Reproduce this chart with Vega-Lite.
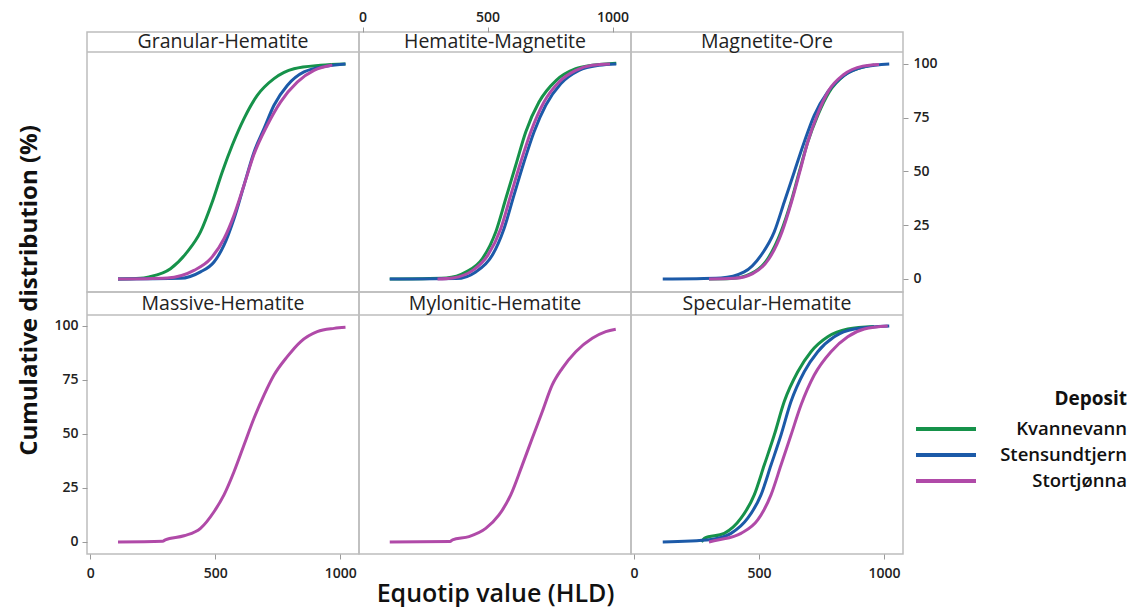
{
  "$schema": "https://vega.github.io/schema/vega-lite/v6.json",
  "padding": {"left": 17, "top": 9, "right": 0, "bottom": 0},
  "background": "white",
  "datasets": {
    "panels": [
      {"panel": "Granular-Hematite"}, {"panel": "Hematite-Magnetite"}, {"panel": "Magnetite-Ore"},
      {"panel": "Massive-Hematite"}, {"panel": "Mylonitic-Hematite"}, {"panel": "Specular-Hematite"}
    ],
    "curves": [
      {"panel": "Granular-Hematite", "deposit": "Kvannevann", "hld": 111, "cum": 0},
      {"panel": "Granular-Hematite", "deposit": "Kvannevann", "hld": 200, "cum": 0.3},
      {"panel": "Granular-Hematite", "deposit": "Kvannevann", "hld": 235, "cum": 1},
      {"panel": "Granular-Hematite", "deposit": "Kvannevann", "hld": 321, "cum": 4.8},
      {"panel": "Granular-Hematite", "deposit": "Kvannevann", "hld": 388, "cum": 12.6},
      {"panel": "Granular-Hematite", "deposit": "Kvannevann", "hld": 441, "cum": 21.9},
      {"panel": "Granular-Hematite", "deposit": "Kvannevann", "hld": 488, "cum": 35.8},
      {"panel": "Granular-Hematite", "deposit": "Kvannevann", "hld": 528, "cum": 49.8},
      {"panel": "Granular-Hematite", "deposit": "Kvannevann", "hld": 568, "cum": 62.2},
      {"panel": "Granular-Hematite", "deposit": "Kvannevann", "hld": 615, "cum": 74.6},
      {"panel": "Granular-Hematite", "deposit": "Kvannevann", "hld": 668, "cum": 85.4},
      {"panel": "Granular-Hematite", "deposit": "Kvannevann", "hld": 735, "cum": 93.2},
      {"panel": "Granular-Hematite", "deposit": "Kvannevann", "hld": 815, "cum": 97.8},
      {"panel": "Granular-Hematite", "deposit": "Kvannevann", "hld": 921, "cum": 99.4},
      {"panel": "Granular-Hematite", "deposit": "Kvannevann", "hld": 1021, "cum": 100},
      {"panel": "Granular-Hematite", "deposit": "Stensundtjern", "hld": 111, "cum": 0},
      {"panel": "Granular-Hematite", "deposit": "Stensundtjern", "hld": 361, "cum": 0.3},
      {"panel": "Granular-Hematite", "deposit": "Stensundtjern", "hld": 441, "cum": 3.3},
      {"panel": "Granular-Hematite", "deposit": "Stensundtjern", "hld": 495, "cum": 7.9},
      {"panel": "Granular-Hematite", "deposit": "Stensundtjern", "hld": 535, "cum": 15.7},
      {"panel": "Granular-Hematite", "deposit": "Stensundtjern", "hld": 575, "cum": 28},
      {"panel": "Granular-Hematite", "deposit": "Stensundtjern", "hld": 615, "cum": 43.6},
      {"panel": "Granular-Hematite", "deposit": "Stensundtjern", "hld": 655, "cum": 59},
      {"panel": "Granular-Hematite", "deposit": "Stensundtjern", "hld": 695, "cum": 69.9},
      {"panel": "Granular-Hematite", "deposit": "Stensundtjern", "hld": 735, "cum": 80.8},
      {"panel": "Granular-Hematite", "deposit": "Stensundtjern", "hld": 788, "cum": 90},
      {"panel": "Granular-Hematite", "deposit": "Stensundtjern", "hld": 855, "cum": 96.3},
      {"panel": "Granular-Hematite", "deposit": "Stensundtjern", "hld": 948, "cum": 99},
      {"panel": "Granular-Hematite", "deposit": "Stensundtjern", "hld": 1021, "cum": 100},
      {"panel": "Granular-Hematite", "deposit": "Stortjønna", "hld": 111, "cum": 0},
      {"panel": "Granular-Hematite", "deposit": "Stortjønna", "hld": 308, "cum": 0.5},
      {"panel": "Granular-Hematite", "deposit": "Stortjønna", "hld": 415, "cum": 4},
      {"panel": "Granular-Hematite", "deposit": "Stortjønna", "hld": 481, "cum": 9.4},
      {"panel": "Granular-Hematite", "deposit": "Stortjønna", "hld": 535, "cum": 18.7},
      {"panel": "Granular-Hematite", "deposit": "Stortjønna", "hld": 575, "cum": 29.6},
      {"panel": "Granular-Hematite", "deposit": "Stortjønna", "hld": 615, "cum": 43.6},
      {"panel": "Granular-Hematite", "deposit": "Stortjønna", "hld": 655, "cum": 58},
      {"panel": "Granular-Hematite", "deposit": "Stortjønna", "hld": 708, "cum": 71.5},
      {"panel": "Granular-Hematite", "deposit": "Stortjønna", "hld": 761, "cum": 82.3},
      {"panel": "Granular-Hematite", "deposit": "Stortjønna", "hld": 828, "cum": 91.6},
      {"panel": "Granular-Hematite", "deposit": "Stortjønna", "hld": 895, "cum": 97},
      {"panel": "Granular-Hematite", "deposit": "Stortjønna", "hld": 968, "cum": 99.5},

      {"panel": "Hematite-Magnetite", "deposit": "Kvannevann", "hld": 109, "cum": 0},
      {"panel": "Hematite-Magnetite", "deposit": "Kvannevann", "hld": 335, "cum": 0.5},
      {"panel": "Hematite-Magnetite", "deposit": "Kvannevann", "hld": 415, "cum": 3.3},
      {"panel": "Hematite-Magnetite", "deposit": "Kvannevann", "hld": 479, "cum": 9.4},
      {"panel": "Hematite-Magnetite", "deposit": "Kvannevann", "hld": 533, "cum": 21.9},
      {"panel": "Hematite-Magnetite", "deposit": "Kvannevann", "hld": 573, "cum": 37.3},
      {"panel": "Hematite-Magnetite", "deposit": "Kvannevann", "hld": 613, "cum": 52.9},
      {"panel": "Hematite-Magnetite", "deposit": "Kvannevann", "hld": 653, "cum": 68.4},
      {"panel": "Hematite-Magnetite", "deposit": "Kvannevann", "hld": 706, "cum": 82.3},
      {"panel": "Hematite-Magnetite", "deposit": "Kvannevann", "hld": 775, "cum": 92.4},
      {"panel": "Hematite-Magnetite", "deposit": "Kvannevann", "hld": 853, "cum": 97.8},
      {"panel": "Hematite-Magnetite", "deposit": "Kvannevann", "hld": 919, "cum": 99.4},
      {"panel": "Hematite-Magnetite", "deposit": "Kvannevann", "hld": 1015, "cum": 100.4},
      {"panel": "Hematite-Magnetite", "deposit": "Stensundtjern", "hld": 109, "cum": 0},
      {"panel": "Hematite-Magnetite", "deposit": "Stensundtjern", "hld": 375, "cum": 0.2},
      {"panel": "Hematite-Magnetite", "deposit": "Stensundtjern", "hld": 453, "cum": 3.3},
      {"panel": "Hematite-Magnetite", "deposit": "Stensundtjern", "hld": 519, "cum": 11},
      {"panel": "Hematite-Magnetite", "deposit": "Stensundtjern", "hld": 566, "cum": 23.4},
      {"panel": "Hematite-Magnetite", "deposit": "Stensundtjern", "hld": 606, "cum": 39},
      {"panel": "Hematite-Magnetite", "deposit": "Stensundtjern", "hld": 646, "cum": 54.4},
      {"panel": "Hematite-Magnetite", "deposit": "Stensundtjern", "hld": 686, "cum": 68.4},
      {"panel": "Hematite-Magnetite", "deposit": "Stensundtjern", "hld": 733, "cum": 80.8},
      {"panel": "Hematite-Magnetite", "deposit": "Stensundtjern", "hld": 793, "cum": 90.8},
      {"panel": "Hematite-Magnetite", "deposit": "Stensundtjern", "hld": 866, "cum": 97},
      {"panel": "Hematite-Magnetite", "deposit": "Stensundtjern", "hld": 946, "cum": 99.4},
      {"panel": "Hematite-Magnetite", "deposit": "Stensundtjern", "hld": 1015, "cum": 100},
      {"panel": "Hematite-Magnetite", "deposit": "Stortjønna", "hld": 300, "cum": 0},
      {"panel": "Hematite-Magnetite", "deposit": "Stortjønna", "hld": 361, "cum": 0.5},
      {"panel": "Hematite-Magnetite", "deposit": "Stortjønna", "hld": 441, "cum": 4},
      {"panel": "Hematite-Magnetite", "deposit": "Stortjønna", "hld": 501, "cum": 11},
      {"panel": "Hematite-Magnetite", "deposit": "Stortjønna", "hld": 553, "cum": 23.4},
      {"panel": "Hematite-Magnetite", "deposit": "Stortjønna", "hld": 593, "cum": 39},
      {"panel": "Hematite-Magnetite", "deposit": "Stortjønna", "hld": 633, "cum": 54.4},
      {"panel": "Hematite-Magnetite", "deposit": "Stortjønna", "hld": 673, "cum": 68.4},
      {"panel": "Hematite-Magnetite", "deposit": "Stortjønna", "hld": 726, "cum": 82.3},
      {"panel": "Hematite-Magnetite", "deposit": "Stortjønna", "hld": 786, "cum": 91.6},
      {"panel": "Hematite-Magnetite", "deposit": "Stortjønna", "hld": 853, "cum": 97},
      {"panel": "Hematite-Magnetite", "deposit": "Stortjønna", "hld": 919, "cum": 99.4},
      {"panel": "Hematite-Magnetite", "deposit": "Stortjønna", "hld": 990, "cum": 100},

      {"panel": "Magnetite-Ore", "deposit": "Kvannevann", "hld": 300, "cum": 0},
      {"panel": "Magnetite-Ore", "deposit": "Kvannevann", "hld": 388, "cum": 0.2},
      {"panel": "Magnetite-Ore", "deposit": "Kvannevann", "hld": 468, "cum": 2.5},
      {"panel": "Magnetite-Ore", "deposit": "Kvannevann", "hld": 535, "cum": 9.4},
      {"panel": "Magnetite-Ore", "deposit": "Kvannevann", "hld": 588, "cum": 21.9},
      {"panel": "Magnetite-Ore", "deposit": "Kvannevann", "hld": 628, "cum": 35.8},
      {"panel": "Magnetite-Ore", "deposit": "Kvannevann", "hld": 661, "cum": 49.8},
      {"panel": "Magnetite-Ore", "deposit": "Kvannevann", "hld": 695, "cum": 63.7},
      {"panel": "Magnetite-Ore", "deposit": "Kvannevann", "hld": 735, "cum": 76.1},
      {"panel": "Magnetite-Ore", "deposit": "Kvannevann", "hld": 781, "cum": 87},
      {"panel": "Magnetite-Ore", "deposit": "Kvannevann", "hld": 841, "cum": 94.7},
      {"panel": "Magnetite-Ore", "deposit": "Kvannevann", "hld": 921, "cum": 98.7},
      {"panel": "Magnetite-Ore", "deposit": "Kvannevann", "hld": 960, "cum": 99.5},
      {"panel": "Magnetite-Ore", "deposit": "Stensundtjern", "hld": 115, "cum": 0},
      {"panel": "Magnetite-Ore", "deposit": "Stensundtjern", "hld": 348, "cum": 0.5},
      {"panel": "Magnetite-Ore", "deposit": "Stensundtjern", "hld": 441, "cum": 3.3},
      {"panel": "Magnetite-Ore", "deposit": "Stensundtjern", "hld": 508, "cum": 11},
      {"panel": "Magnetite-Ore", "deposit": "Stensundtjern", "hld": 561, "cum": 21.9},
      {"panel": "Magnetite-Ore", "deposit": "Stensundtjern", "hld": 601, "cum": 35.8},
      {"panel": "Magnetite-Ore", "deposit": "Stensundtjern", "hld": 641, "cum": 49.8},
      {"panel": "Magnetite-Ore", "deposit": "Stensundtjern", "hld": 681, "cum": 63.7},
      {"panel": "Magnetite-Ore", "deposit": "Stensundtjern", "hld": 721, "cum": 76.1},
      {"panel": "Magnetite-Ore", "deposit": "Stensundtjern", "hld": 775, "cum": 87},
      {"panel": "Magnetite-Ore", "deposit": "Stensundtjern", "hld": 841, "cum": 94.7},
      {"panel": "Magnetite-Ore", "deposit": "Stensundtjern", "hld": 921, "cum": 98.7},
      {"panel": "Magnetite-Ore", "deposit": "Stensundtjern", "hld": 1021, "cum": 100},
      {"panel": "Magnetite-Ore", "deposit": "Stortjønna", "hld": 300, "cum": 0},
      {"panel": "Magnetite-Ore", "deposit": "Stortjønna", "hld": 400, "cum": 0.3},
      {"panel": "Magnetite-Ore", "deposit": "Stortjønna", "hld": 475, "cum": 2.5},
      {"panel": "Magnetite-Ore", "deposit": "Stortjønna", "hld": 540, "cum": 9.4},
      {"panel": "Magnetite-Ore", "deposit": "Stortjønna", "hld": 592, "cum": 21.9},
      {"panel": "Magnetite-Ore", "deposit": "Stortjønna", "hld": 630, "cum": 35.8},
      {"panel": "Magnetite-Ore", "deposit": "Stortjønna", "hld": 663, "cum": 49.8},
      {"panel": "Magnetite-Ore", "deposit": "Stortjønna", "hld": 695, "cum": 63.7},
      {"panel": "Magnetite-Ore", "deposit": "Stortjønna", "hld": 733, "cum": 76.3},
      {"panel": "Magnetite-Ore", "deposit": "Stortjønna", "hld": 778, "cum": 87.5},
      {"panel": "Magnetite-Ore", "deposit": "Stortjønna", "hld": 838, "cum": 95},
      {"panel": "Magnetite-Ore", "deposit": "Stortjønna", "hld": 915, "cum": 99},
      {"panel": "Magnetite-Ore", "deposit": "Stortjønna", "hld": 980, "cum": 99.8},

      {"panel": "Massive-Hematite", "deposit": "Stortjønna", "hld": 111, "cum": 0},
      {"panel": "Massive-Hematite", "deposit": "Stortjønna", "hld": 290, "cum": 0.3},
      {"panel": "Massive-Hematite", "deposit": "Stortjønna", "hld": 300, "cum": 1},
      {"panel": "Massive-Hematite", "deposit": "Stortjønna", "hld": 375, "cum": 2.9},
      {"panel": "Massive-Hematite", "deposit": "Stortjønna", "hld": 441, "cum": 6.3},
      {"panel": "Massive-Hematite", "deposit": "Stortjønna", "hld": 495, "cum": 14},
      {"panel": "Massive-Hematite", "deposit": "Stortjønna", "hld": 535, "cum": 21.8},
      {"panel": "Massive-Hematite", "deposit": "Stortjønna", "hld": 575, "cum": 32.5},
      {"panel": "Massive-Hematite", "deposit": "Stortjønna", "hld": 615, "cum": 44.9},
      {"panel": "Massive-Hematite", "deposit": "Stortjønna", "hld": 655, "cum": 57.3},
      {"panel": "Massive-Hematite", "deposit": "Stortjønna", "hld": 695, "cum": 68},
      {"panel": "Massive-Hematite", "deposit": "Stortjønna", "hld": 735, "cum": 77.3},
      {"panel": "Massive-Hematite", "deposit": "Stortjønna", "hld": 788, "cum": 85.8},
      {"panel": "Massive-Hematite", "deposit": "Stortjønna", "hld": 841, "cum": 92.7},
      {"panel": "Massive-Hematite", "deposit": "Stortjønna", "hld": 908, "cum": 97.4},
      {"panel": "Massive-Hematite", "deposit": "Stortjønna", "hld": 975, "cum": 98.9},
      {"panel": "Massive-Hematite", "deposit": "Stortjønna", "hld": 1021, "cum": 99.4},

      {"panel": "Mylonitic-Hematite", "deposit": "Stortjønna", "hld": 109, "cum": 0},
      {"panel": "Mylonitic-Hematite", "deposit": "Stortjønna", "hld": 350, "cum": 0.2},
      {"panel": "Mylonitic-Hematite", "deposit": "Stortjønna", "hld": 360, "cum": 1},
      {"panel": "Mylonitic-Hematite", "deposit": "Stortjønna", "hld": 426, "cum": 2.5},
      {"panel": "Mylonitic-Hematite", "deposit": "Stortjønna", "hld": 493, "cum": 6.3},
      {"panel": "Mylonitic-Hematite", "deposit": "Stortjønna", "hld": 546, "cum": 12.5},
      {"panel": "Mylonitic-Hematite", "deposit": "Stortjønna", "hld": 593, "cum": 21.8},
      {"panel": "Mylonitic-Hematite", "deposit": "Stortjønna", "hld": 639, "cum": 35.6},
      {"panel": "Mylonitic-Hematite", "deposit": "Stortjønna", "hld": 679, "cum": 48},
      {"panel": "Mylonitic-Hematite", "deposit": "Stortjønna", "hld": 719, "cum": 60.3},
      {"panel": "Mylonitic-Hematite", "deposit": "Stortjønna", "hld": 759, "cum": 72.7},
      {"panel": "Mylonitic-Hematite", "deposit": "Stortjønna", "hld": 799, "cum": 80.4},
      {"panel": "Mylonitic-Hematite", "deposit": "Stortjønna", "hld": 853, "cum": 88.1},
      {"panel": "Mylonitic-Hematite", "deposit": "Stortjønna", "hld": 919, "cum": 94.3},
      {"panel": "Mylonitic-Hematite", "deposit": "Stortjønna", "hld": 973, "cum": 97.4},
      {"panel": "Mylonitic-Hematite", "deposit": "Stortjønna", "hld": 1013, "cum": 98.5},

      {"panel": "Specular-Hematite", "deposit": "Kvannevann", "hld": 270, "cum": 0},
      {"panel": "Specular-Hematite", "deposit": "Kvannevann", "hld": 281, "cum": 1.7},
      {"panel": "Specular-Hematite", "deposit": "Kvannevann", "hld": 361, "cum": 4},
      {"panel": "Specular-Hematite", "deposit": "Kvannevann", "hld": 428, "cum": 11},
      {"panel": "Specular-Hematite", "deposit": "Kvannevann", "hld": 481, "cum": 21.8},
      {"panel": "Specular-Hematite", "deposit": "Kvannevann", "hld": 521, "cum": 35.6},
      {"panel": "Specular-Hematite", "deposit": "Kvannevann", "hld": 561, "cum": 49.5},
      {"panel": "Specular-Hematite", "deposit": "Kvannevann", "hld": 601, "cum": 65},
      {"panel": "Specular-Hematite", "deposit": "Kvannevann", "hld": 655, "cum": 78.8},
      {"panel": "Specular-Hematite", "deposit": "Kvannevann", "hld": 708, "cum": 88.1},
      {"panel": "Specular-Hematite", "deposit": "Kvannevann", "hld": 775, "cum": 95},
      {"panel": "Specular-Hematite", "deposit": "Kvannevann", "hld": 855, "cum": 98.6},
      {"panel": "Specular-Hematite", "deposit": "Kvannevann", "hld": 960, "cum": 99.8},
      {"panel": "Specular-Hematite", "deposit": "Stensundtjern", "hld": 115, "cum": 0},
      {"panel": "Specular-Hematite", "deposit": "Stensundtjern", "hld": 308, "cum": 1.2},
      {"panel": "Specular-Hematite", "deposit": "Stensundtjern", "hld": 388, "cum": 4},
      {"panel": "Specular-Hematite", "deposit": "Stensundtjern", "hld": 455, "cum": 11},
      {"panel": "Specular-Hematite", "deposit": "Stensundtjern", "hld": 508, "cum": 21.8},
      {"panel": "Specular-Hematite", "deposit": "Stensundtjern", "hld": 548, "cum": 35.6},
      {"panel": "Specular-Hematite", "deposit": "Stensundtjern", "hld": 588, "cum": 49.5},
      {"panel": "Specular-Hematite", "deposit": "Stensundtjern", "hld": 628, "cum": 65},
      {"panel": "Specular-Hematite", "deposit": "Stensundtjern", "hld": 681, "cum": 78.8},
      {"panel": "Specular-Hematite", "deposit": "Stensundtjern", "hld": 735, "cum": 88.1},
      {"panel": "Specular-Hematite", "deposit": "Stensundtjern", "hld": 801, "cum": 95},
      {"panel": "Specular-Hematite", "deposit": "Stensundtjern", "hld": 881, "cum": 98.6},
      {"panel": "Specular-Hematite", "deposit": "Stensundtjern", "hld": 1021, "cum": 100},
      {"panel": "Specular-Hematite", "deposit": "Stortjønna", "hld": 300, "cum": 0},
      {"panel": "Specular-Hematite", "deposit": "Stortjønna", "hld": 335, "cum": 0.9},
      {"panel": "Specular-Hematite", "deposit": "Stortjønna", "hld": 428, "cum": 4},
      {"panel": "Specular-Hematite", "deposit": "Stortjønna", "hld": 495, "cum": 10.2},
      {"panel": "Specular-Hematite", "deposit": "Stortjønna", "hld": 548, "cum": 21.8},
      {"panel": "Specular-Hematite", "deposit": "Stortjønna", "hld": 588, "cum": 35.6},
      {"panel": "Specular-Hematite", "deposit": "Stortjønna", "hld": 628, "cum": 49.5},
      {"panel": "Specular-Hematite", "deposit": "Stortjønna", "hld": 668, "cum": 63.4},
      {"panel": "Specular-Hematite", "deposit": "Stortjønna", "hld": 721, "cum": 77.3},
      {"panel": "Specular-Hematite", "deposit": "Stortjønna", "hld": 788, "cum": 88.1},
      {"panel": "Specular-Hematite", "deposit": "Stortjønna", "hld": 855, "cum": 95},
      {"panel": "Specular-Hematite", "deposit": "Stortjønna", "hld": 921, "cum": 98.6},
      {"panel": "Specular-Hematite", "deposit": "Stortjønna", "hld": 1015, "cum": 100}
    ]
  },
  "config": {
    "view": {"stroke": "#bdbdbd", "strokeWidth": 1.5},
    "font": "Open Sans",
    "axis": {
      "grid": false, "domain": false, "tickColor": "#9a9a9a", "tickSize": 5, "tickWidth": 1,
      "labelFont": "Open Sans", "labelFontSize": 14, "labelFontWeight": 600, "labelColor": "#222222",
      "titleFont": "Open Sans", "titleColor": "#111111", "minExtent": 0
    },
    "text": {"font": "Open Sans"}
  },
  "columns": 3,
  "spacing": 0,
  "bounds": "flush",
  "resolve": {"scale": {"color": "independent"}, "legend": {"color": "independent"}},
  "concat": [
    {
      "width": 272, "height": 260,
      "layer": [
        {
          "data": {"name": "curves"},
          "transform": [{"filter": "datum.panel === 'Granular-Hematite'"}],
          "mark": {"type": "line", "interpolate": "monotone", "strokeWidth": 3},
          "encoding": {
            "x": {"field": "hld", "type": "quantitative", "scale": {"domain": [-13, 1075], "nice": false, "zero": false}, "axis": null},
            "y": {"field": "cum", "type": "quantitative", "scale": {"domain": [-6.05, 114.88], "nice": false, "zero": false}, "axis": null},
            "color": {
              "field": "deposit", "type": "nominal",
              "scale": {"domain": ["Kvannevann", "Stensundtjern", "Stortjønna"], "range": ["#16924a", "#1c5aa8", "#b04aa8"]},
              "legend": {
                "orient": "none", "legendX": 847, "legendY": 358,
                "title": "Deposit", "titleFont": "Open Sans", "titleFontSize": 19, "titleFontWeight": "bold", "titleColor": "#111111",
                "titleAnchor": "end", "titlePadding": 8,
                "labelFont": "Open Sans", "labelFontSize": 18.5, "labelFontWeight": 600, "labelColor": "#111111",
                "labelAlign": "right", "labelOffset": 169, "labelLimit": 300,
                "symbolType": "M-3,0L3,0", "symbolSize": 400, "symbolStrokeWidth": 4, "rowPadding": 4
              }
            }
          }
        },
        {
          "data": {"name": "panels"},
          "transform": [{"filter": "datum.panel === 'Granular-Hematite'"}],
          "mark": {"type": "rule", "color": "#bdbdbd", "strokeWidth": 1.5},
          "encoding": {"y": {"datum": 105.58}}
        },
        {
          "data": {"name": "panels"},
          "transform": [{"filter": "datum.panel === 'Granular-Hematite'"}],
          "mark": {"type": "text", "fontSize": 19.5, "color": "#222222"},
          "encoding": {"text": {"field": "panel"}, "x": {"datum": 531}, "y": {"datum": 110.2}}
        }
      ]
    },
    {
      "width": 272, "height": 260,
      "layer": [
        {
          "data": {"name": "curves"},
          "transform": [{"filter": "datum.panel === 'Hematite-Magnetite'"}],
          "mark": {"type": "line", "interpolate": "monotone", "strokeWidth": 3},
          "encoding": {
            "x": {"field": "hld", "type": "quantitative", "scale": {"domain": [-14, 1074], "nice": false, "zero": false},
                  "axis": {"orient": "top", "values": [0, 500, 1000], "format": "d", "title": null, "labelPadding": 3}},
            "y": {"field": "cum", "type": "quantitative", "scale": {"domain": [-6.05, 114.88], "nice": false, "zero": false}, "axis": null},
            "color": {
              "field": "deposit", "type": "nominal",
              "scale": {"domain": ["Kvannevann", "Stensundtjern", "Stortjønna"], "range": ["#16924a", "#1c5aa8", "#b04aa8"]},
              "legend": null
            }
          }
        },
        {
          "data": {"name": "panels"},
          "transform": [{"filter": "datum.panel === 'Hematite-Magnetite'"}],
          "mark": {"type": "rule", "color": "#bdbdbd", "strokeWidth": 1.5},
          "encoding": {"y": {"datum": 105.58}}
        },
        {
          "data": {"name": "panels"},
          "transform": [{"filter": "datum.panel === 'Hematite-Magnetite'"}],
          "mark": {"type": "text", "fontSize": 19.5, "color": "#222222"},
          "encoding": {"text": {"field": "panel"}, "x": {"datum": 530}, "y": {"datum": 110.2}}
        }
      ]
    },
    {
      "width": 272, "height": 260,
      "layer": [
        {
          "data": {"name": "curves"},
          "transform": [{"filter": "datum.panel === 'Magnetite-Ore'"}],
          "mark": {"type": "line", "interpolate": "monotone", "strokeWidth": 3},
          "encoding": {
            "x": {"field": "hld", "type": "quantitative", "scale": {"domain": [-12, 1076], "nice": false, "zero": false}, "axis": null},
            "y": {"field": "cum", "type": "quantitative", "scale": {"domain": [-6.05, 114.88], "nice": false, "zero": false},
                  "axis": {"orient": "right", "values": [0, 25, 50, 75, 100], "title": null, "labelPadding": 5}},
            "color": {
              "field": "deposit", "type": "nominal",
              "scale": {"domain": ["Kvannevann", "Stensundtjern", "Stortjønna"], "range": ["#16924a", "#1c5aa8", "#b04aa8"]},
              "legend": null
            }
          }
        },
        {
          "data": {"name": "panels"},
          "transform": [{"filter": "datum.panel === 'Magnetite-Ore'"}],
          "mark": {"type": "rule", "color": "#bdbdbd", "strokeWidth": 1.5},
          "encoding": {"y": {"datum": 105.58}}
        },
        {
          "data": {"name": "panels"},
          "transform": [{"filter": "datum.panel === 'Magnetite-Ore'"}],
          "mark": {"type": "text", "fontSize": 19.5, "color": "#222222"},
          "encoding": {"text": {"field": "panel"}, "x": {"datum": 532}, "y": {"datum": 110.2}}
        }
      ]
    },
    {
      "width": 272, "height": 262,
      "layer": [
        {
          "data": {"name": "curves"},
          "transform": [{"filter": "datum.panel === 'Massive-Hematite'"}],
          "mark": {"type": "line", "interpolate": "monotone", "strokeWidth": 3},
          "encoding": {
            "x": {"field": "hld", "type": "quantitative", "scale": {"domain": [-13, 1075], "nice": false, "zero": false},
                  "axis": {"orient": "bottom", "values": [0, 500, 1000], "format": "d", "title": null, "labelPadding": 7}},
            "y": {"field": "cum", "type": "quantitative", "scale": {"domain": [-5.56, 115.74], "nice": false, "zero": false},
                  "axis": {"orient": "left", "values": [0, 25, 50, 75, 100], "title": "Cumulative distribution (%)",
                           "labelPadding": 4, "titleFontSize": 24, "titleFontWeight": "bold", "titlePadding": 12, "titleY": -2}},
            "color": {
              "field": "deposit", "type": "nominal",
              "scale": {"domain": ["Kvannevann", "Stensundtjern", "Stortjønna"], "range": ["#16924a", "#1c5aa8", "#b04aa8"]},
              "legend": null
            }
          }
        },
        {
          "data": {"name": "panels"},
          "transform": [{"filter": "datum.panel === 'Massive-Hematite'"}],
          "mark": {"type": "rule", "color": "#bdbdbd", "strokeWidth": 1.5},
          "encoding": {"y": {"datum": 105.1}}
        },
        {
          "data": {"name": "panels"},
          "transform": [{"filter": "datum.panel === 'Massive-Hematite'"}],
          "mark": {"type": "text", "fontSize": 19.5, "color": "#222222"},
          "encoding": {"text": {"field": "panel"}, "x": {"datum": 531}, "y": {"datum": 110.4}}
        }
      ]
    },
    {
      "width": 272, "height": 262,
      "layer": [
        {
          "data": {"name": "curves"},
          "transform": [{"filter": "datum.panel === 'Mylonitic-Hematite'"}],
          "mark": {"type": "line", "interpolate": "monotone", "strokeWidth": 3},
          "encoding": {
            "x": {"field": "hld", "type": "quantitative", "scale": {"domain": [-14, 1074], "nice": false, "zero": false},
                  "axis": {"orient": "bottom", "labels": false, "ticks": false, "domain": false, "title": "Equotip value (HLD)",
                           "titleFontSize": 25, "titleFontWeight": 600, "titlePadding": 27}},
            "y": {"field": "cum", "type": "quantitative", "scale": {"domain": [-5.56, 115.74], "nice": false, "zero": false}, "axis": null},
            "color": {
              "field": "deposit", "type": "nominal",
              "scale": {"domain": ["Kvannevann", "Stensundtjern", "Stortjønna"], "range": ["#16924a", "#1c5aa8", "#b04aa8"]},
              "legend": null
            }
          }
        },
        {
          "data": {"name": "panels"},
          "transform": [{"filter": "datum.panel === 'Mylonitic-Hematite'"}],
          "mark": {"type": "rule", "color": "#bdbdbd", "strokeWidth": 1.5},
          "encoding": {"y": {"datum": 105.1}}
        },
        {
          "data": {"name": "panels"},
          "transform": [{"filter": "datum.panel === 'Mylonitic-Hematite'"}],
          "mark": {"type": "text", "fontSize": 19.5, "color": "#222222"},
          "encoding": {"text": {"field": "panel"}, "x": {"datum": 530}, "y": {"datum": 110.4}}
        }
      ]
    },
    {
      "width": 272, "height": 262,
      "layer": [
        {
          "data": {"name": "curves"},
          "transform": [{"filter": "datum.panel === 'Specular-Hematite'"}],
          "mark": {"type": "line", "interpolate": "monotone", "strokeWidth": 3},
          "encoding": {
            "x": {"field": "hld", "type": "quantitative", "scale": {"domain": [-12, 1076], "nice": false, "zero": false},
                  "axis": {"orient": "bottom", "values": [0, 500, 1000], "format": "d", "title": null, "labelPadding": 7}},
            "y": {"field": "cum", "type": "quantitative", "scale": {"domain": [-5.56, 115.74], "nice": false, "zero": false}, "axis": null},
            "color": {
              "field": "deposit", "type": "nominal",
              "scale": {"domain": ["Kvannevann", "Stensundtjern", "Stortjønna"], "range": ["#16924a", "#1c5aa8", "#b04aa8"]},
              "legend": null
            }
          }
        },
        {
          "data": {"name": "panels"},
          "transform": [{"filter": "datum.panel === 'Specular-Hematite'"}],
          "mark": {"type": "rule", "color": "#bdbdbd", "strokeWidth": 1.5},
          "encoding": {"y": {"datum": 105.1}}
        },
        {
          "data": {"name": "panels"},
          "transform": [{"filter": "datum.panel === 'Specular-Hematite'"}],
          "mark": {"type": "text", "fontSize": 19.5, "color": "#222222"},
          "encoding": {"text": {"field": "panel"}, "x": {"datum": 532}, "y": {"datum": 110.4}}
        }
      ]
    }
  ]
}
